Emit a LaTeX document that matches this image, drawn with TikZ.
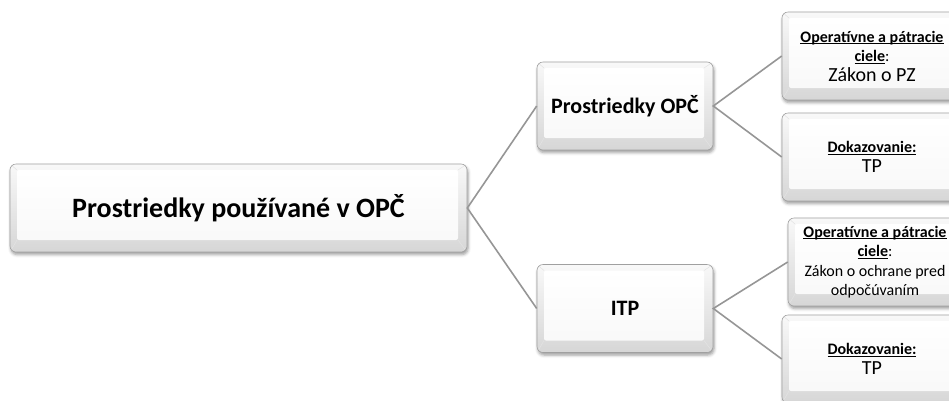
\documentclass[tikz,border=0pt]{standalone}
\usepackage{fontspec}
\setmainfont{Carlito}
\usetikzlibrary{shadows.blur}

\definecolor{conncol}{RGB}{150,150,150}
\definecolor{edgecol}{RGB}{160,160,160}

\tikzset{
  bevel/.style={
    draw=edgecol, line width=0.6pt, rounded corners=6pt,
    top color=gray!5, bottom color=gray!32,
    inner sep=0pt, align=flush center,
    blur shadow={shadow xshift=1pt, shadow yshift=-2.5pt,
                 shadow blur radius=3pt, shadow opacity=40},
    path picture={
      \path (path picture bounding box.north west) coordinate (o1)
            (path picture bounding box.south east) coordinate (o2);
      \path ([shift={(7pt,-6pt)}]o1) coordinate (i1)
            ([shift={(-9pt,12pt)}]o2) coordinate (i2);
      \draw[gray!22, line width=0.5pt]
        (o1) -- (i1) (o2) -- (i2) (o1 -| o2) -- (i1 -| i2) (o1 |- o2) -- (i1 |- i2);
      \shade[top color=white, bottom color=white!95!gray, rounded corners=2pt]
        (i1) rectangle (i2);
    }},
  rootbox/.style={bevel, minimum width=457pt, minimum height=88pt,
    font=\fontsize{28}{32}\selectfont\bfseries},
  midbox/.style={bevel, minimum width=176pt, minimum height=88pt,
    font=\fontsize{22}{26}\selectfont\bfseries},
  leafbox/.style={bevel, minimum width=180pt, minimum height=88pt,
    text width=172pt, font=\fontsize{16}{19.5}\selectfont},
  conn/.style={draw=conncol, line width=1.6pt},
}

% underline drawn at a fixed depth below the baseline
\newcommand{\uln}[1]{\leavevmode\setbox0\hbox{#1}\rlap{\rule[-2.2pt]{\wd0}{0.8pt}}\box0}
\newcommand{\headfont}{\fontsize{16}{19.5}\selectfont\bfseries}
\newcommand{\bodyfont}{\fontsize{20}{19.5}\selectfont\mdseries}
\newcommand{\smallbody}{\fontsize{16}{19.5}\selectfont\mdseries}

\begin{document}
\begin{tikzpicture}[x=1pt,y=-1pt]
  \useasboundingbox (0,0) rectangle (949,400);
  \clip (0,0) rectangle (949,400);

  % root and the two branches
  \node[rootbox] (root) at (238.5,208) {Prostriedky používané v OPČ};
  \node[midbox]  (opc)  at (625,106)   {Prostriedky OPČ};
  \node[midbox]  (itp)  at (625,308.5) {ITP};

  % leaves of "Prostriedky OPČ"
  \node[leafbox] (opcgoal) at (872,56)
    {\headfont\uln{Operatívne a pátracie}\\\uln{ciele}\mdseries:\\\bodyfont Zákon o PZ};
  \node[leafbox] (opcproof) at (872,157)
    {\headfont\uln{Dokazovanie:}\\\bodyfont TP};

  % leaves of "ITP"
  \node[leafbox, minimum width=174pt] (itpgoal) at (875,262)
    {\headfont\uln{Operatívne a pátracie}\\\uln{ciele}\mdseries:\\\smallbody Zákon o ochrane pred\\odpočúvaním};
  \node[leafbox] (itpproof) at (872,359)
    {\headfont\uln{Dokazovanie:}\\\bodyfont TP};

  % connectors
  \draw[conn] (opc.west) -- (root.east) -- (itp.west);
  \draw[conn] (opcgoal.west) -- (opc.east) -- (opcproof.west);
  \draw[conn] (itpgoal.west) -- (itp.east) -- (itpproof.west);
\end{tikzpicture}
\end{document}
